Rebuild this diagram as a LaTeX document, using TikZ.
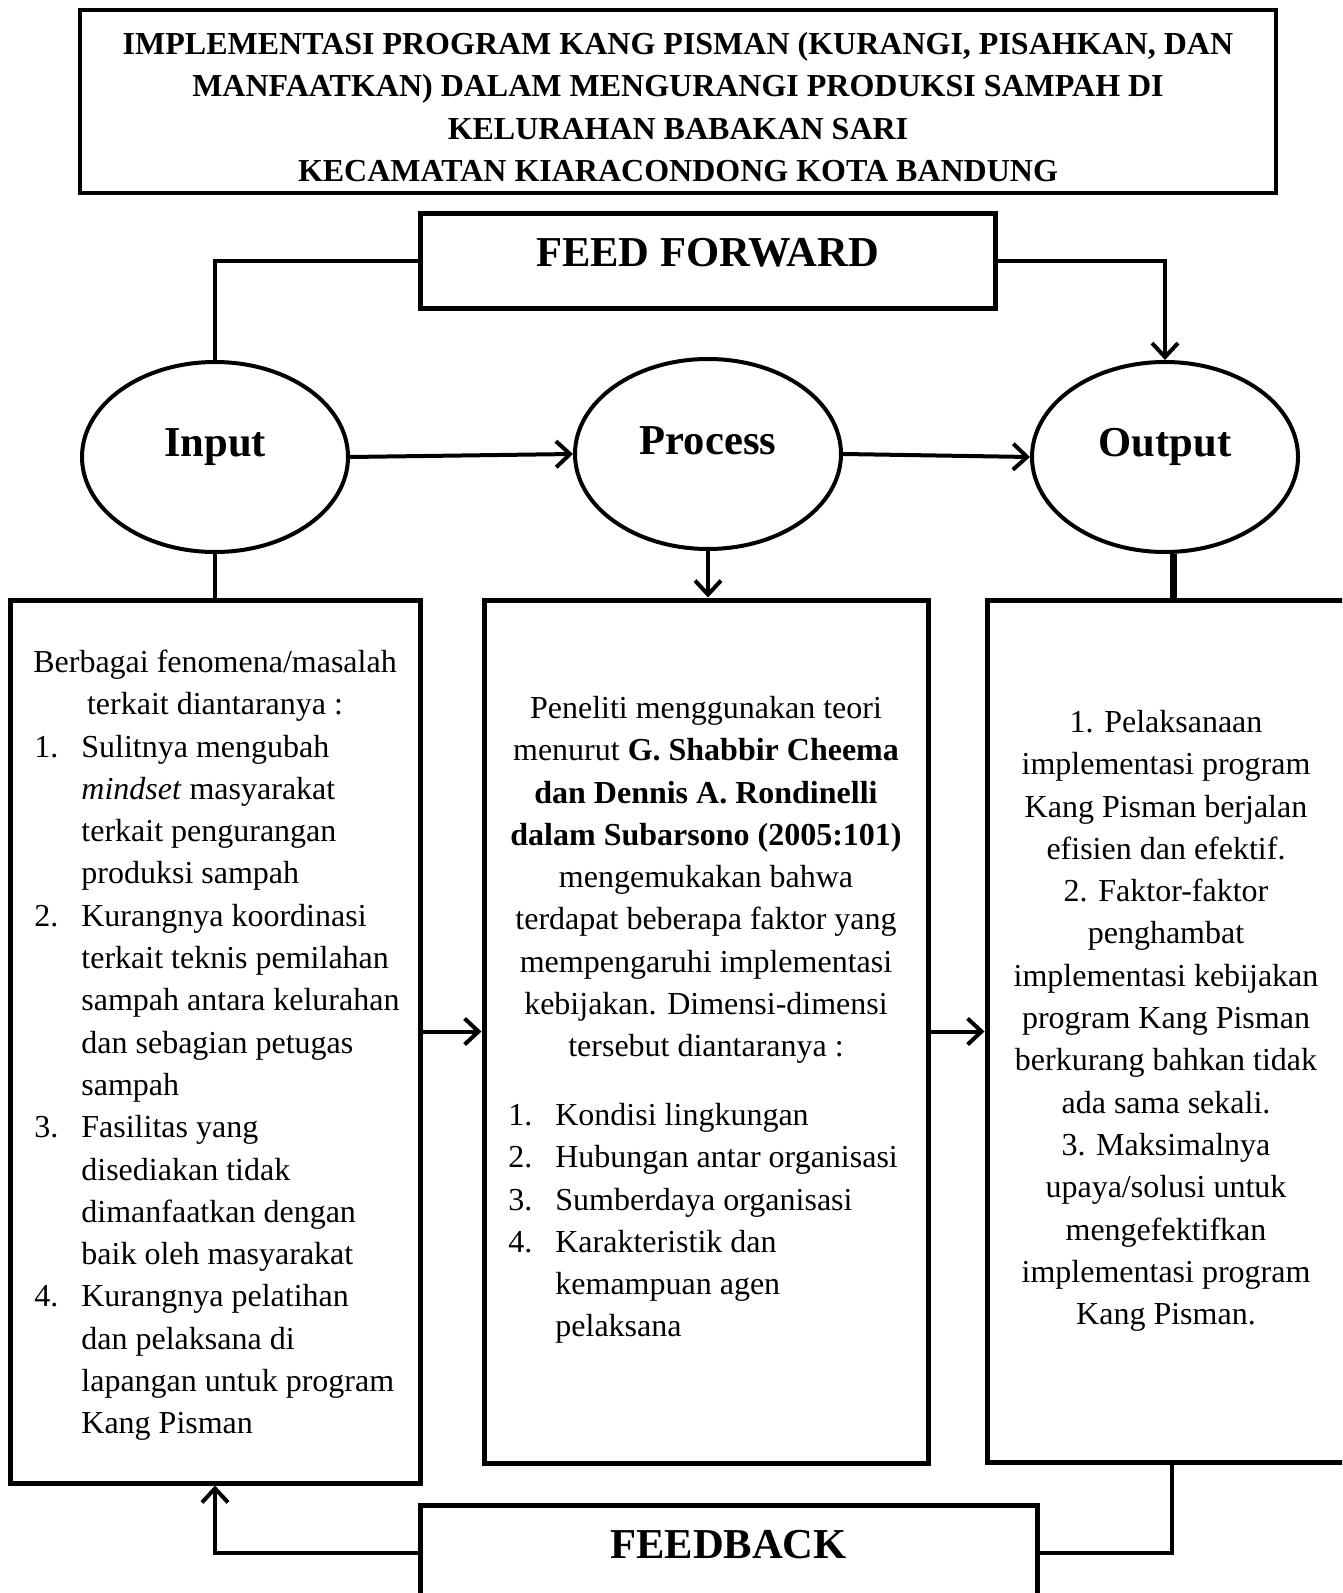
\documentclass[tikz,border=0pt]{standalone}
\usepackage{fontspec}
\setmainfont{Liberation Serif}
\usetikzlibrary{shapes.geometric,arrows.meta}
\newcommand{\pxu}{0.5pt}
\newcommand{\numitem}[1]{\makebox[23.5pt][l]{#1}}
\newcommand{\hangln}{\hspace*{23.5pt}}
\begin{document}
\begin{tikzpicture}
		[x=0.5pt,y=-0.5pt,
		BoxNode/.style={draw,line width=2.5pt,inner sep=0pt},
		CircNode/.style={ellipse,draw,line width=2pt,inner sep=0pt,minimum width=266*\pxu,minimum height=190*\pxu,
			font=\fontsize{21.3}{25}\selectfont\bfseries,text height=7pt,text depth=7pt},
		LblNode/.style={font=\fontsize{21.3}{25}\selectfont\bfseries,text height=10pt,text depth=4.5pt},
		TxtNode/.style={inner sep=0pt,anchor=north,font=\fontsize{16}{21.15}\selectfont},
		Link/.style={line width=2pt},
		Arrow/.style={line width=2pt,-{Straight Barb[length=7pt,width=13pt]}}]
		
		\useasboundingbox (0,0) rectangle (1342,1593);
		\clip (0,0) rectangle (1342,1593);
		
		% 画标题框
		\node[BoxNode,line width=2pt,minimum width=1196*\pxu,minimum height=183*\pxu] (title) at (678,101.5){};
		\node[TxtNode,align=center,font=\fontsize{16}{21.15}\selectfont\bfseries] (title_txt) at (678,24.4)
		{\strut IMPLEMENTASI PROGRAM KANG PISMAN (KURANGI, PISAHKAN, DAN\\
			MANFAATKAN) DALAM MENGURANGI PRODUKSI SAMPAH DI\\
			KELURAHAN BABAKAN SARI\\
			KECAMATAN KIARACONDONG KOTA BANDUNG};
		
		% 画 feed forward 和 feedback 框
		\node[BoxNode,LblNode,minimum width=575*\pxu,minimum height=95*\pxu] (ff) at (707.5,261.5){FEED FORWARD};
		\node[BoxNode,LblNode,minimum width=617*\pxu,minimum height=95*\pxu] (fb) at (728.5,1552.5){FEEDBACK};
		
		% 画三个椭圆
		\foreach \n/\t/\x/\y in {input/Input/215/457, process/Process/708/454, output/Output/1165/457}
		\node[CircNode] (\n) at (\x,\y){\t};
		
		% 画下面三个框
		\node[BoxNode,minimum width=410*\pxu,minimum height=883*\pxu] (leftbox) at (215,1041.5){};
		\node[BoxNode,minimum width=444*\pxu,minimum height=863*\pxu] (midbox) at (706,1031.5){};
		\node[BoxNode,minimum width=383*\pxu,minimum height=862*\pxu] (rightbox) at (1178.5,1031){};
		
		% 左框文字
		\node[TxtNode,align=center] (left_head) at (215,642.4)
		{\strut Berbagai fenomena/masalah\\ terkait diantaranya :};
		\node[TxtNode,anchor=north west,align=left] (left_list) at (34,727)
		{\strut\numitem{1.}Sulitnya mengubah\\
			\hangln\emph{mindset} masyarakat\\
			\hangln terkait pengurangan\\
			\hangln produksi sampah\\
			\numitem{2.}Kurangnya koordinasi\\
			\hangln terkait teknis pemilahan\\
			\hangln sampah antara kelurahan\\
			\hangln dan sebagian petugas\\
			\hangln sampah\\
			\numitem{3.}Fasilitas yang\\
			\hangln disediakan tidak\\
			\hangln dimanfaatkan dengan\\
			\hangln baik oleh masyarakat\\
			\numitem{4.}Kurangnya pelatihan\\
			\hangln dan pelaksana di\\
			\hangln lapangan untuk program\\
			\hangln Kang Pisman};
		
		% 中框文字
		\node[TxtNode,align=center] (mid_head) at (706,688.4)
		{\strut Peneliti menggunakan teori\\
			menurut \textbf{G. Shabbir Cheema}\\
			\textbf{dan Dennis A. Rondinelli}\\
			\textbf{dalam Subarsono (2005:101)}\\
			mengemukakan bahwa\\
			terdapat beberapa faktor yang\\
			mempengaruhi implementasi\\
			kebijakan. Dimensi-dimensi\\
			tersebut diantaranya :};
		\node[TxtNode,anchor=north west,align=left] (mid_list) at (508,1095.4)
		{\strut\numitem{1.}Kondisi lingkungan\\
			\numitem{2.}Hubungan antar organisasi\\
			\numitem{3.}Sumberdaya organisasi\\
			\numitem{4.}Karakteristik dan\\
			\hangln kemampuan agen\\
			\hangln pelaksana};
		
		% 右框文字
		\node[TxtNode,align=center] (right_txt) at (1166,702.4)
		{\strut 1. Pelaksanaan\\
			implementasi program\\
			Kang Pisman berjalan\\
			efisien dan efektif.\\
			2. Faktor-faktor\\
			penghambat\\
			implementasi kebijakan\\
			program Kang Pisman\\
			berkurang bahkan tidak\\
			ada sama sekali.\\
			3. Maksimalnya\\
			upaya/solusi untuk\\
			mengefektifkan\\
			implementasi program\\
			Kang Pisman.};
		
		% feed forward 连线
		\draw[Link](ff.west) -| (input.north);
		\draw[Arrow](ff.east) -| (output.north);
		
		% 椭圆之间的连线
		\draw[Arrow](input.east) -- (process.west);
		\draw[Arrow](process.east) -- (output.west);
		
		% 椭圆到框的连线
		\draw[Link](input.south) -- (input.south |- leftbox.north);
		\draw[Arrow](process.south) -- (process.south |- midbox.north);
		\draw[Link,line width=3.5pt]([xshift=4pt]output.south) -- ([xshift=4pt]output.south |- rightbox.north);
		
		% 框之间的连线
		\draw[Arrow](leftbox.east |- midbox.west) -- (midbox.west);
		\draw[Arrow](midbox.east) -- (midbox.east -| rightbox.west);
		
		% feedback 连线
		\draw[Link]([xshift=3.5pt]rightbox.south -| output.south) |- (fb.east);
		\draw[Arrow](fb.west) -| (leftbox.south);
		
	\end{tikzpicture}
\end{document}
